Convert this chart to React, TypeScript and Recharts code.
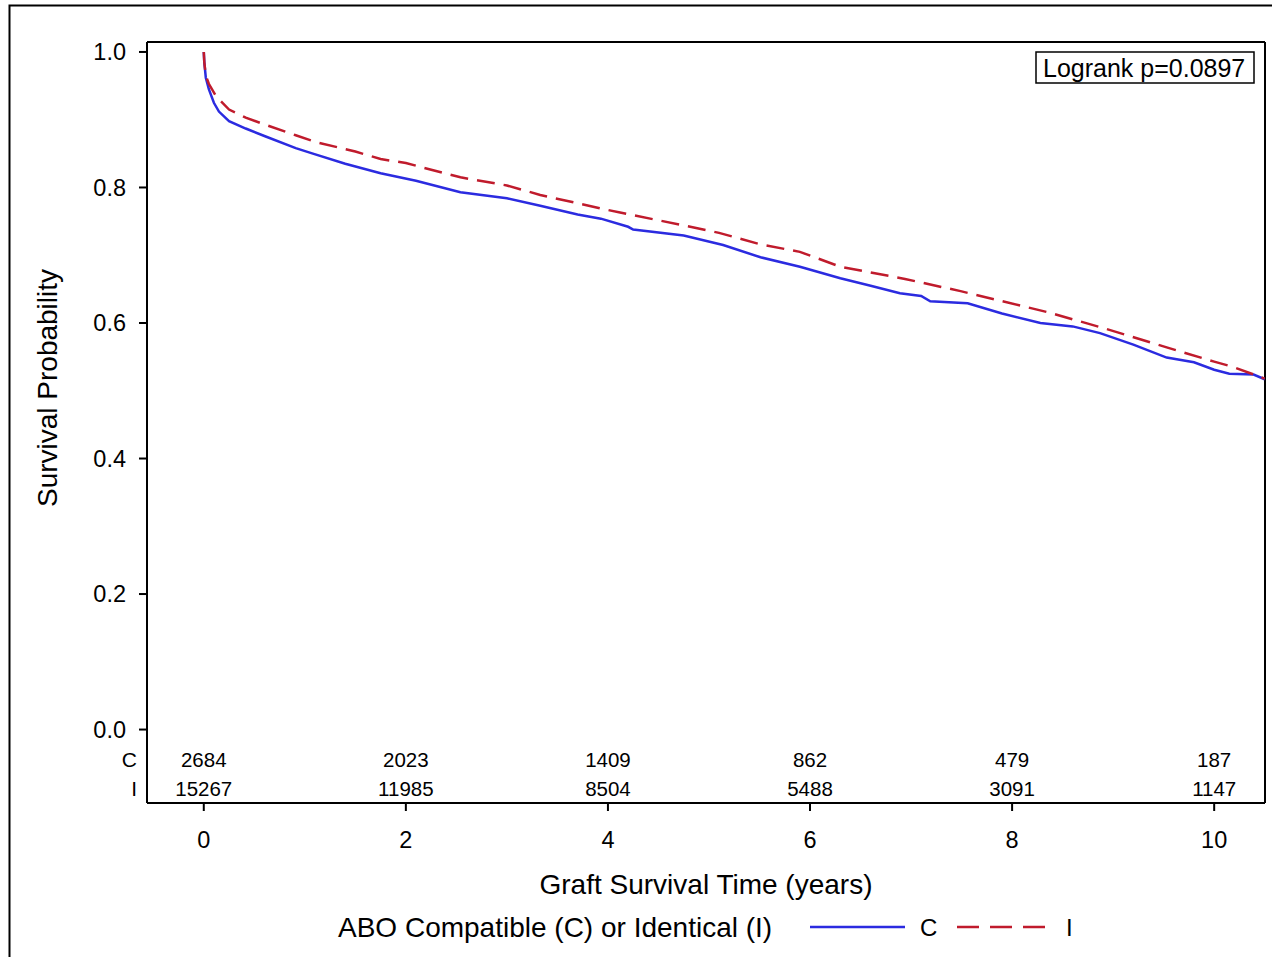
import { LineChart, Line, XAxis, YAxis, ReferenceDot, ReferenceLine } from "recharts";

// Kaplan-Meier estimates: [years, survival]
const compatibleCurve: [number, number][] = [
  [0, 1.0], [0.005, 0.985], [0.02, 0.962], [0.05, 0.945], [0.1, 0.925], [0.15, 0.912],
  [0.25, 0.898], [0.415, 0.887], [0.6, 0.876], [0.91, 0.858], [1.08, 0.85], [1.4, 0.835],
  [1.75, 0.821], [2.1, 0.81], [2.54, 0.793], [3.0, 0.784], [3.33, 0.773], [3.7, 0.76],
  [3.93, 0.754], [4.2, 0.742], [4.25, 0.738], [4.75, 0.729], [5.14, 0.715], [5.51, 0.697],
  [5.9, 0.683], [6.3, 0.666], [6.6, 0.655], [6.89, 0.644], [7.1, 0.64], [7.19, 0.632],
  [7.56, 0.629], [7.9, 0.614], [8.28, 0.6], [8.6, 0.595], [8.87, 0.585], [9.2, 0.568],
  [9.53, 0.549], [9.8, 0.542], [10.0, 0.531], [10.15, 0.525], [10.39, 0.524], [10.5, 0.517],
];

const identicalCurve: [number, number][] = [
  [0, 1.0], [0.005, 0.985], [0.02, 0.965], [0.05, 0.953], [0.12, 0.935], [0.25, 0.915],
  [0.415, 0.903], [0.6, 0.893], [0.91, 0.877], [1.11, 0.867], [1.5, 0.853], [1.75, 0.842],
  [2.0, 0.836], [2.54, 0.815], [3.0, 0.803], [3.33, 0.789], [3.93, 0.769], [4.12, 0.763],
  [4.72, 0.745], [5.1, 0.733], [5.51, 0.716], [5.9, 0.705], [6.3, 0.683], [6.94, 0.665],
  [7.49, 0.647], [8.35, 0.616], [8.87, 0.594], [9.53, 0.564], [10.0, 0.543], [10.19, 0.535],
  [10.5, 0.518],
];

const xTicks = [0, 2, 4, 6, 8, 10];
const yTicks = [0, 0.2, 0.4, 0.6, 0.8, 1.0];
const atRiskC = [2684, 2023, 1409, 862, 479, 187];
const atRiskI = [15267, 11985, 8504, 5488, 3091, 1147];

const FONT = '"Liberation Sans", Arial, sans-serif';
const BLUE = "#2b2be0";
const RED = "#c01b2c";
const X_DOMAIN: [number, number] = [-0.562, 10.503];
const Y_DOMAIN: [number, number] = [-0.1084, 1.0147];
const ROW_C = -0.0442;
const ROW_I = -0.087;

export default function App() {
  const blue = compatibleCurve.map(([t, s]) => ({ t, s }));
  const red = identicalCurve.map(([t, s]) => ({ t, s }));
  const axisStroke = { stroke: "#000", strokeWidth: 2 };

  return (
    <div style={{ position: "fixed", left: 0, top: 0, width: 1272, height: 957, overflow: "hidden", background: "#fff", fontFamily: FONT }}>
      <LineChart width={1272} height={957} margin={{ top: 42, right: 7, bottom: 104, left: 67 }} style={{ fontFamily: FONT }}>
        <XAxis
          dataKey="t"
          type="number"
          domain={X_DOMAIN}
          ticks={xTicks}
          interval={0}
          height={50}
          tickSize={8}
          tickMargin={20}
          axisLine={axisStroke}
          tickLine={axisStroke}
          tick={{ fontSize: 23.5, fill: "#000" }}
        />
        <YAxis
          type="number"
          domain={Y_DOMAIN}
          ticks={yTicks}
          interval={0}
          width={80}
          tickSize={8}
          tickMargin={13}
          axisLine={axisStroke}
          tickLine={axisStroke}
          tick={{ fontSize: 23.5, fill: "#000" }}
          tickFormatter={(v) => Number(v).toFixed(1)}
        />
        {/* plot frame: top and right edges */}
        <ReferenceLine y={Y_DOMAIN[1]} stroke="#000" strokeWidth={2} ifOverflow="visible" />
        <ReferenceLine x={X_DOMAIN[1]} stroke="#000" strokeWidth={2} ifOverflow="visible" />

        <Line data={blue} dataKey="s" stroke={BLUE} strokeWidth={2.5} dot={false} activeDot={false} isAnimationActive={false} />
        <Line data={red} dataKey="s" stroke={RED} strokeWidth={2.5} strokeDasharray="18 9" dot={false} activeDot={false} isAnimationActive={false} />

        {xTicks.map((t, i) => (
          <ReferenceDot key={`c${t}`} x={t} y={ROW_C} r={0} fill="none" stroke="none" ifOverflow="visible"
            label={{ value: String(atRiskC[i]), position: "center", fontSize: 20.5, fill: "#000" }} />
        ))}
        {xTicks.map((t, i) => (
          <ReferenceDot key={`i${t}`} x={t} y={ROW_I} r={0} fill="none" stroke="none" ifOverflow="visible"
            label={{ value: String(atRiskI[i]), position: "center", fontSize: 20.5, fill: "#000" }} />
        ))}
        <ReferenceDot x={X_DOMAIN[0]} y={ROW_C} r={0} fill="none" stroke="none" ifOverflow="visible"
          label={{ value: "C", position: "left", offset: 10, fontSize: 21, fill: "#000" }} />
        <ReferenceDot x={X_DOMAIN[0]} y={ROW_I} r={0} fill="none" stroke="none" ifOverflow="visible"
          label={{ value: "I", position: "left", offset: 10, fontSize: 21, fill: "#000" }} />
      </LineChart>

      <svg width={1272} height={957} style={{ position: "absolute", left: 0, top: 0, pointerEvents: "none" }} fontFamily={FONT}>
        <path d="M9.5,957 V5.5 H1272" fill="none" stroke="#000" strokeWidth={2} />
        <rect x={1036} y={52} width={218} height={31} fill="#fff" stroke="#000" strokeWidth={1.5} />
        <text x={1043} y={68} fontSize={25} dominantBaseline="central" fill="#000">Logrank p=0.0897</text>
        <text transform="translate(47,388) rotate(-90)" textAnchor="middle" dominantBaseline="central" fontSize={28} fill="#000">Survival Probability</text>
        <text x={706} y={884} textAnchor="middle" dominantBaseline="central" fontSize={28} fill="#000">Graft Survival Time (years)</text>
        <text x={338} y={927} dominantBaseline="central" fontSize={28} fill="#000">ABO Compatible (C) or Identical (I)</text>
        <line x1={810} y1={927} x2={905} y2={927} stroke={BLUE} strokeWidth={2.5} />
        <text x={920} y={927} dominantBaseline="central" fontSize={24} fill="#000">C</text>
        <line x1={957} y1={927} x2={1045} y2={927} stroke={RED} strokeWidth={2.5} strokeDasharray="22 11" />
        <text x={1066} y={927} dominantBaseline="central" fontSize={24} fill="#000">I</text>
      </svg>
    </div>
  );
}
